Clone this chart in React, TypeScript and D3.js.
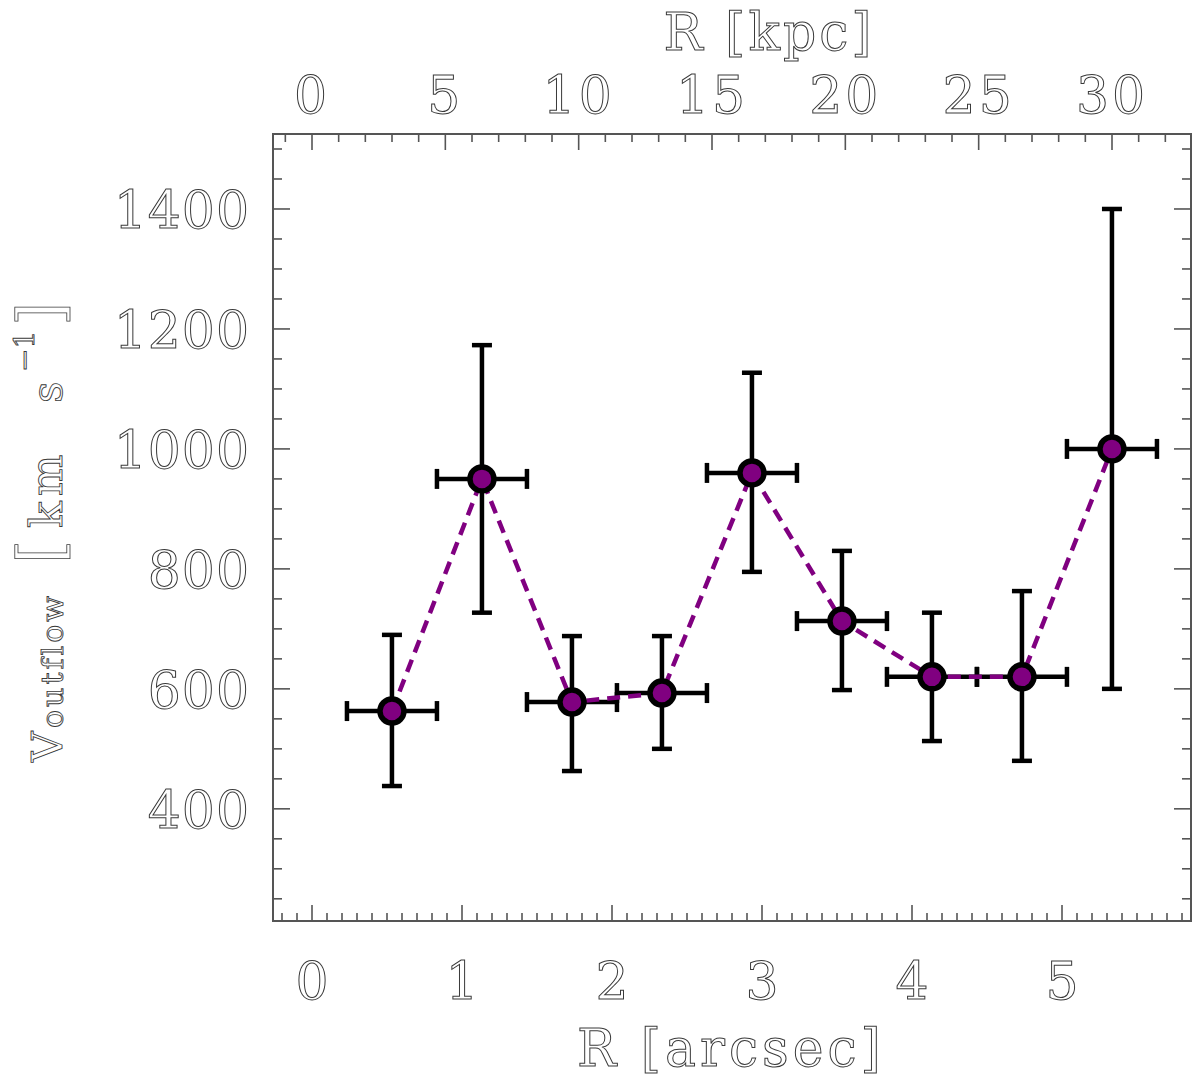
import * as React from "react";
import * as d3 from "d3";

// radius in arcsec, outflow velocity in km/s (with asymmetric errors)
const radiusArcsec = [0.533, 1.133, 1.733, 2.333, 2.933, 3.533, 4.133, 4.733, 5.333];
const radiusErr = [0.3, 0.3, 0.3, 0.3, 0.3, 0.3, 0.3, 0.3, 0.3];
const vOutflow = [563, 950, 578, 593, 960, 713, 620, 620, 1000];
const vLow = [438, 727, 463, 500, 795, 598, 513, 480, 600];
const vHigh = [690, 1173, 688, 688, 1127, 830, 727, 763, 1400];

const arcsecTicks = [0, 1, 2, 3, 4, 5];
const kpcTicks = [0, 5, 10, 15, 20, 25, 30];
const vTicks = [400, 600, 800, 1000, 1200, 1400];
const kpcPerArcsec = 5.625;

const width = 1200;
const height = 1086;
const left = 273;
const right = 1191;
const top = 134;
const bottom = 921;

const axisColor = "#555";
const textStyle: React.CSSProperties = {
  fontFamily: "'DejaVu Serif', serif",
  fill: "white",
  stroke: "#3a3a3a",
  strokeWidth: 1,
};

const App: React.FC = () => {
  const x = d3.scaleLinear().domain([-0.26, 5.86]).range([left, right]);
  const xk = d3
    .scaleLinear()
    .domain([-0.26 * kpcPerArcsec, 5.86 * kpcPerArcsec])
    .range([left, right]);
  const y = d3.scaleLinear().domain([213, 1525]).range([bottom, top]);

  const [x0, x1] = x.domain();
  const [k0, k1] = xk.domain();
  const [y0, y1] = y.domain();

  const minorX = d3.range(Math.ceil(x0 * 10), Math.floor(x1 * 10) + 1).map((d) => d / 10);
  const minorK = d3.range(Math.ceil(k0), Math.floor(k1) + 1);
  const minorY = d3.range(Math.ceil(y0 / 50) * 50, y1, 50);

  const pts = radiusArcsec.map((r, i) => ({
    r,
    re: radiusErr[i],
    v: vOutflow[i],
    lo: vLow[i],
    hi: vHigh[i],
  }));

  const line = d3
    .line<(typeof pts)[number]>()
    .x((d) => x(d.r))
    .y((d) => y(d.v));

  const cap = 10;

  return (
    <svg
      width={width}
      height={height}
      style={{ position: "absolute", left: 0, top: 0, background: "white" }}
    >
      {/* frame */}
      <rect
        x={left}
        y={top}
        width={right - left}
        height={bottom - top}
        fill="none"
        stroke={axisColor}
        strokeWidth={2}
      />

      {/* bottom + top ticks (arcsec / kpc), left + right ticks */}
      <g stroke={axisColor} strokeWidth={1.6}>
        {minorX.map((t) => {
          const major = Math.abs(t - Math.round(t)) < 1e-6;
          const len = major ? 16 : 8;
          return <line key={"b" + t} x1={x(t)} x2={x(t)} y1={bottom} y2={bottom - len} />;
        })}
        {minorK.map((t) => {
          const len = t % 5 === 0 ? 16 : 8;
          return <line key={"t" + t} x1={xk(t)} x2={xk(t)} y1={top} y2={top + len} />;
        })}
        {minorY.map((t) => {
          const len = t % 200 === 0 ? 17 : 9;
          return (
            <g key={"y" + t}>
              <line x1={left} x2={left + len} y1={y(t)} y2={y(t)} />
              <line x1={right} x2={right - len} y1={y(t)} y2={y(t)} />
            </g>
          );
        })}
      </g>

      {/* tick labels */}
      <g style={{ ...textStyle, fontSize: 52 }}>
        {arcsecTicks.map((t) => (
          <text key={"bl" + t} x={x(t)} y={999} textAnchor="middle">
            {t}
          </text>
        ))}
        {kpcTicks.map((t) => (
          <text key={"tl" + t} x={xk(t)} y={113} textAnchor="middle" letterSpacing={3}>
            {t}
          </text>
        ))}
        {vTicks.map((t) => (
          <text key={"yl" + t} x={250} y={y(t) + 19} textAnchor="end" letterSpacing={1}>
            {t}
          </text>
        ))}
      </g>

      {/* axis titles */}
      <text
        x={731}
        y={1066}
        textAnchor="middle"
        style={{ ...textStyle, fontSize: 52 }}
        letterSpacing={4}
      >
        R [arcsec]
      </text>
      <text
        x={769}
        y={50}
        textAnchor="middle"
        style={{ ...textStyle, fontSize: 52 }}
        letterSpacing={3}
      >
        R [kpc]
      </text>
      <text
        transform="translate(62,762) rotate(-90)"
        textAnchor="start"
        style={{ ...textStyle, fontSize: 42, strokeWidth: 0.9 }}
      >
        <tspan x={0} y={0}>V</tspan>
        <tspan x={34} y={1} fontSize={30} letterSpacing={3}>outflow</tspan>
        <tspan x={198} y={0} fontSize={62} strokeWidth={0.8}>[</tspan>
        <tspan x={234} y={0} fontSize={44} letterSpacing={5}>km</tspan>
        <tspan x={359} y={0}>s</tspan>
        <tspan x={390} y={-28} fontSize={28}>−1</tspan>
        <tspan x={436} y={0} fontSize={62} strokeWidth={0.8}>]</tspan>
      </text>

      {/* error bars */}
      <g stroke="black" strokeWidth={4.5} fill="none">
        {pts.map((d, i) => (
          <g key={"e" + i}>
            <line x1={x(d.r)} x2={x(d.r)} y1={y(d.lo)} y2={y(d.hi)} />
            <line x1={x(d.r) - cap} x2={x(d.r) + cap} y1={y(d.lo)} y2={y(d.lo)} />
            <line x1={x(d.r) - cap} x2={x(d.r) + cap} y1={y(d.hi)} y2={y(d.hi)} />
            <line x1={x(d.r - d.re)} x2={x(d.r + d.re)} y1={y(d.v)} y2={y(d.v)} />
            <line x1={x(d.r - d.re)} x2={x(d.r - d.re)} y1={y(d.v) - cap} y2={y(d.v) + cap} />
            <line x1={x(d.r + d.re)} x2={x(d.r + d.re)} y1={y(d.v) - cap} y2={y(d.v) + cap} />
          </g>
        ))}
      </g>

      {/* dashed connecting line */}
      <path
        d={line(pts) || undefined}
        fill="none"
        stroke="#800080"
        strokeWidth={4.5}
        strokeDasharray="13 8"
      />

      {/* markers */}
      <g fill="#800080" stroke="black" strokeWidth={5.5}>
        {pts.map((d, i) => (
          <circle key={"m" + i} cx={x(d.r)} cy={y(d.v)} r={12} />
        ))}
      </g>
    </svg>
  );
};

export default App;
